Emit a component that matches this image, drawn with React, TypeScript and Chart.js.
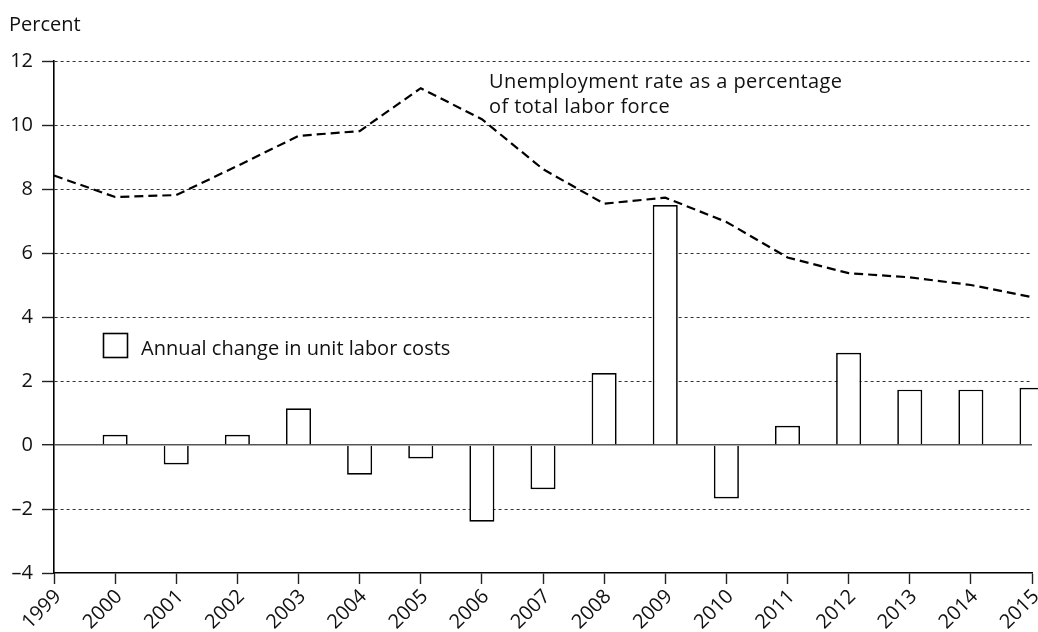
import React, { useEffect, useRef } from "react";
import { Chart, registerables } from "chart.js";

Chart.register(...registerables);

const years = ["1999","2000","2001","2002","2003","2004","2005","2006","2007","2008","2009","2010","2011","2012","2013","2014","2015"];
const unemployment = [8.42, 7.75, 7.81, 8.72, 9.66, 9.81, 11.15, 10.18, 8.62, 7.54, 7.73, 6.97, 5.86, 5.37, 5.24, 5.0, 4.62];
const laborCosts = [null, 0.32, -0.61, 0.32, 1.15, -0.93, -0.42, -2.4, -1.38, 2.25, 7.5, -1.67, 0.6, 2.88, 1.73, 1.73, 1.79];
const yTicks = [-4, -2, 0, 2, 4, 6, 8, 10, 12];

const yAxisLabel = "Percent";
const lineLabel = ["Unemployment rate as a percentage", "of total labor force"];
const barLabel = "Annual change in unit labor costs";

const FONT = "'Open Sans', 'Noto Sans', sans-serif";
const SIZE = 20;
const TEXT = "#111";

const annotations = {
  id: "annotations",
  afterDraw(chart: any) {
    const ctx = chart.ctx;
    ctx.save();
    ctx.fillStyle = TEXT;
    ctx.font = `${SIZE}px ${FONT}`;
    ctx.textAlign = "left";
    ctx.textBaseline = "alphabetic";
    ctx.fillText(yAxisLabel, 9, 31);
    ctx.save();
    (ctx as any).letterSpacing = "0.4px";
    ctx.fillText(lineLabel[0], 489, 88);
    ctx.fillText(lineLabel[1], 489, 113);
    ctx.restore();
    // bar legend
    ctx.strokeStyle = "#000";
    ctx.lineWidth = 1.6;
    ctx.fillStyle = "#fff";
    ctx.fillRect(103.5, 333.5, 24, 24);
    ctx.strokeRect(103.5, 333.5, 24, 24);
    ctx.fillStyle = TEXT;
    ctx.fillText(barLabel, 141, 355);
    ctx.restore();
  },
};

export default function App() {
  const ref = useRef<HTMLCanvasElement | null>(null);
  useEffect(() => {
    if (!ref.current) return;
    const chart = new Chart(ref.current, {
      type: "bar",
      data: {
        labels: years,
        datasets: [
          {
            type: "line",
            label: "Unemployment",
            data: unemployment,
            borderColor: "#000",
            borderWidth: 2.2,
            borderDash: [9, 5],
            pointRadius: 0,
            tension: 0,
            fill: false,
            order: 0,
          } as any,
          {
            type: "bar",
            label: "Labor costs",
            data: laborCosts,
            backgroundColor: "#fff",
            borderColor: "#000",
            borderWidth: 1.7,
            categoryPercentage: 1,
            barPercentage: 0.41,
            clip: false,
            order: 1,
          } as any,
        ],
      },
      options: {
        responsive: false,
        animation: false,
        layout: { padding: { top: 61, right: 6, left: 0, bottom: 0 } },
        plugins: {
          legend: { display: false },
          tooltip: { enabled: false },
          title: { display: false },
        },
        scales: {
          x: {
            type: "category",
            offset: false,
            afterFit(scale: any) {
              scale.height = 59;
              scale.paddingRight = 0;
              scale.paddingLeft = 0;
            },
            grid: {
              offset: false,
              drawOnChartArea: false,
              drawTicks: true,
              tickLength: 11,
              tickColor: "#222",
              tickWidth: 1.4,
              color: "#222",
            },
            border: { display: true, color: "#000", width: 1.6 },
            ticks: {
              autoSkip: false,
              maxRotation: 45,
              minRotation: 45,
              padding: 1,
              labelOffset: 4,
              color: TEXT,
              font: { family: FONT, size: SIZE },
            },
          },
          y: {
            type: "linear",
            min: -4,
            max: 12,
            afterFit(scale: any) {
              scale.width = 54;
            },
            afterBuildTicks(scale: any) {
              scale.ticks = yTicks.map((v) => ({ value: v }));
            },
            grid: {
              drawTicks: true,
              tickLength: 12,
              tickColor: "#222",
              tickWidth: 1.4,
              lineWidth: (c: any) => (c.tick && c.tick.value === 0 ? 1.4 : 1),
              color: (c: any) =>
                c.tick && c.tick.value === -4
                  ? "rgba(0,0,0,0)"
                  : c.tick && c.tick.value === 0
                  ? "#555"
                  : "#333",
            },
            border: {
              display: true,
              color: "#000",
              width: 1.6,
              dash: (c: any) => (c.tick && c.tick.value === 0 ? [] : [3, 3]),
            } as any,
            ticks: {
              padding: 9,
              color: TEXT,
              font: { family: FONT, size: SIZE },
              callback: (v: any) => (Number(v) < 0 ? "\u2013" + Math.abs(Number(v)) : String(v)),
            },
          },
        },
      } as any,
      plugins: [annotations],
    });
    return () => chart.destroy();
  }, []);
  return (
    <div style={{ position: "fixed", left: 0, top: 0, width: 1038, height: 632, background: "#fff" }}>
      <canvas ref={ref} width={1038} height={632} />
    </div>
  );
}
